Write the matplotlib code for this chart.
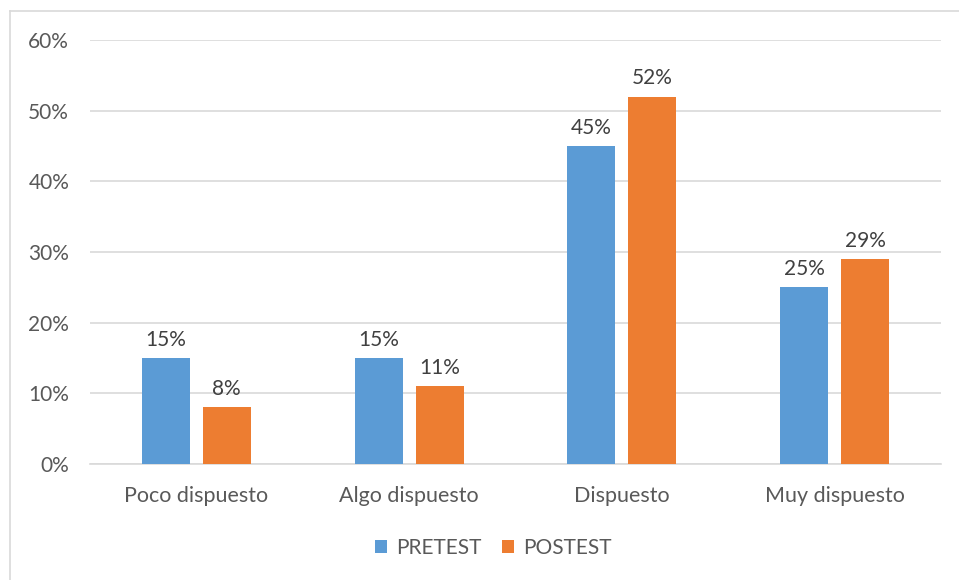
import matplotlib
matplotlib.use("Agg")
import matplotlib.pyplot as plt
import numpy as np
from matplotlib.lines import Line2D

categories = ["Poco dispuesto", "Algo dispuesto", "Dispuesto", "Muy dispuesto"]
pretest = [15, 15, 45, 25]
postest = [8, 11, 52, 29]
series_names = ["PRETEST", "POSTEST"]
yticks = [0, 10, 20, 30, 40, 50, 60]

blue = "#5B9BD5"
orange = "#ED7D31"
text_col = "#595959"
grid_col = "#D9D9D9"

plt.rcParams["font.family"] = ["Lato", "DejaVu Sans"]

W, H = 959, 580
fig = plt.figure(figsize=(W / 100, H / 100), dpi=100)
ax = fig.add_axes([90 / W, 1 - 464 / H, (941 - 90) / W, (464 - 40) / H])

x = np.arange(len(categories))
bw = 0.226
off = 0.143
b1 = ax.bar(x - off, pretest, bw, color=blue, label=series_names[0], zorder=3)
b2 = ax.bar(x + off, postest, bw, color=orange, label=series_names[1], zorder=3)

for bars, vals in ((b1, pretest), (b2, postest)):
    for rect, v in zip(bars, vals):
        ax.annotate(f"{v}%", (rect.get_x() + rect.get_width() / 2, v),
                    xytext=(0, 6), textcoords="offset points",
                    ha="center", va="bottom", fontsize=15, color="#404040")

ax.set_xlim(-0.5, len(categories) - 0.5)
ax.set_ylim(0, 60)
ax.set_yticks(yticks)
ax.set_yticklabels([f"{t}%" for t in yticks])
ax.set_xticks(x)
ax.set_xticklabels(categories)
ax.yaxis.grid(True, color=grid_col, linewidth=1.2, zorder=0)
ax.set_axisbelow(True)
for s in ["top", "right", "left"]:
    ax.spines[s].set_visible(False)
ax.spines["bottom"].set_color(grid_col)
ax.spines["bottom"].set_linewidth(1.2)
ax.tick_params(axis="both", length=0, colors=text_col, labelsize=15)
ax.tick_params(axis="y", pad=15)
ax.tick_params(axis="x", pad=16, labelsize=15.5)

fig.legend(handles=[b1, b2], labels=series_names, loc="center",
           bbox_to_anchor=(493 / W, 1 - 548 / H), ncol=2, frameon=False,
           fontsize=15, labelcolor=text_col, handlelength=0.6,
           handleheight=0.6, handletextpad=0.4, columnspacing=1.0)

# chart frame edges
fig.add_artist(Line2D([10 / W, 10 / W], [0, 1 - 11 / H], transform=fig.transFigure,
                      color=grid_col, linewidth=1.2))
fig.add_artist(Line2D([10 / W, 1], [1 - 11 / H, 1 - 11 / H], transform=fig.transFigure,
                      color=grid_col, linewidth=1.2))

fig.savefig("out.png", dpi=100)
